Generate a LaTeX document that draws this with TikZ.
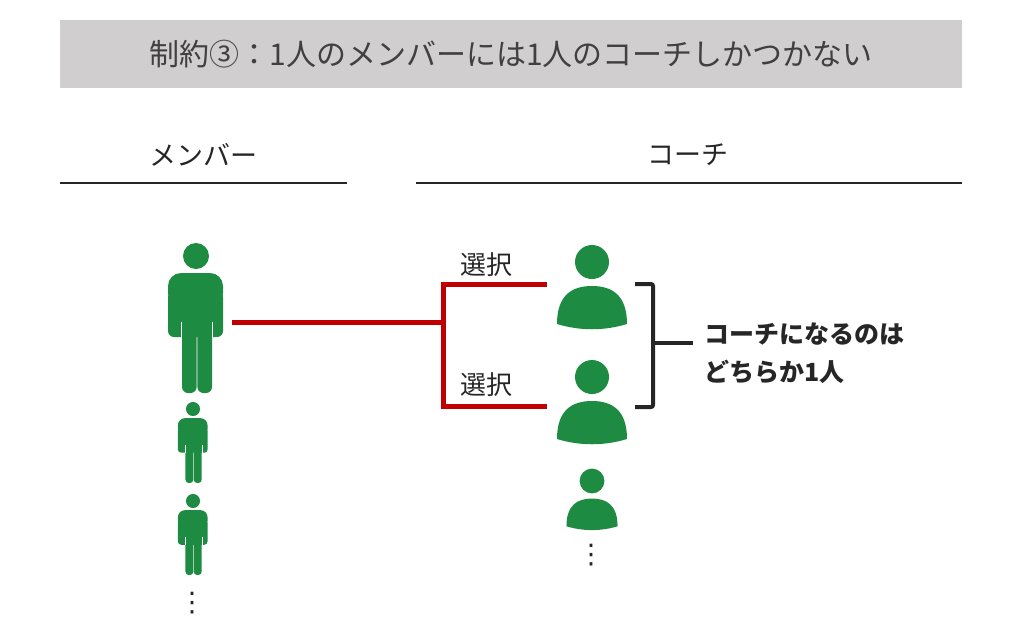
\documentclass[tikz,border=0pt]{standalone}
\usepackage{fontspec}
\setmainfont{Noto Sans CJK JP}
\newfontfamily\dotfont{DejaVu Sans}
\definecolor{icongreen}{HTML}{1E8B43}
\definecolor{selred}{HTML}{C00000}
\definecolor{bargray}{HTML}{D0CECE}
\definecolor{inkgray}{HTML}{262626}
\tikzset{
    titlebar/.style={fill=bargray, text=black!75, minimum width=902, minimum height=68, inner sep=0, font=\fontsize{30}{34}\selectfont},
    header/.style={text=inkgray, font=\fontsize{27}{32}\selectfont},
    headline/.style={draw=inkgray, line width=1.6},
    sel/.style={draw=selred, line width=5},
    sellabel/.style={text=inkgray, inner sep=0, font=\fontsize{26}{30}\selectfont},
    brace/.style={draw=inkgray, line width=4, rounded corners=2},
    note/.style={text=inkgray, align=left, anchor=west, inner sep=0, font=\fontsize{25}{38}\selectfont\bfseries},
    vdots/.style={text=inkgray, inner sep=0, font=\fontsize{27}{30}\dotfont},
    member/.pic={
        \fill[icongreen] (0,0) circle (13);
        \fill[icongreen, rounded corners=13*#1] (-28,50) rectangle (27,17);
        \fill[icongreen, rounded corners=6*#1] (-28,81) rectangle (27,35);
        \fill[icongreen, rounded corners=6*#1] (-14,137) rectangle (0.6,70);
        \fill[icongreen, rounded corners=6*#1] (1.4,137) rectangle (16,70);
        \draw[white, line width=#1] (-14.6,66) -- (-14.6,82) (16.6,66) -- (16.6,82);
    },
    coach/.pic={
        \fill[icongreen] (0,0) circle (17);
        \fill[icongreen] (-35,62) .. controls (-35,33) and (-20,24) .. (0,24)
            .. controls (20,24) and (35,33) .. (35,62)
            .. controls (12,69) and (-12,69) .. cycle;
    },
}
\begin{document}
\begin{tikzpicture}[x=1pt, y=-1pt]
    \useasboundingbox (0,0) rectangle (1024,635);
    \node[titlebar] (title) at (511,54) {制約③：1人のメンバーには1人のコーチしかつかない};

    \node[header] (hm) at (203,155) {メンバー};
    \node[header] (hc) at (688,155) {コーチ};
    \draw[headline] (60,183) -- (347,183);
    \draw[headline] (416,183) -- (962,183);

    \pic at (196,256) {member=1};
    \pic[scale=0.54] at (193,409) {member=0.54};
    \pic[scale=0.54] at (193,501) {member=0.54};
    \node[vdots] (md) at (192,603) {⋮};

    \pic at (592,262) {coach};
    \pic at (592,377) {coach};
    \pic[scale=0.73] at (592,481) {coach};
    \node[vdots] (cd) at (591,555) {⋮};

    \coordinate (m1) at (232,322);
    \coordinate (split) at (443,322);
    \coordinate (c1) at (547,284);
    \coordinate (c2) at (547,406);
    \draw[sel] (m1) -- (split);
    \draw[sel] (c1) -| (split) |- (c2);
    \node[sellabel] (s1) at (486,265) {選択};
    \node[sellabel] (s2) at (486,385) {選択};

    \coordinate (b1) at (635,284);
    \coordinate (b2) at (635,407);
    \coordinate (btip) at (693,343);
    \draw[brace] (b1) -- (653,284) -- (653,407) -- (b2);
    \draw[brace] (653,343) -- (btip);
    \node[note] (pick) at (704,353) {コーチになるのは\\どちらか1人};
\end{tikzpicture}
\end{document}
